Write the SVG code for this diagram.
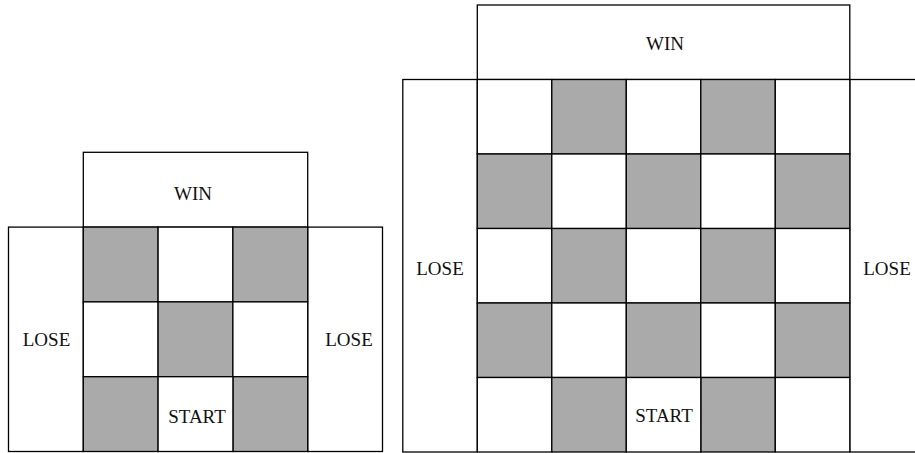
<svg xmlns="http://www.w3.org/2000/svg" width="915" height="453" viewBox="0 0 915 453">
<style>
.w,.g{stroke:#000;stroke-width:1.3}
.w{fill:#fff}
.g{fill:#aaaaaa}
.bg{fill:#fff;stroke:none}
text{font-family:"Liberation Serif","DejaVu Serif","Times New Roman",serif;font-size:19px;fill:#111;text-anchor:middle}
</style>
<rect class="bg" x="0" y="0" width="915" height="453"/>
<g id="left-board">
  <g id="L-win"><rect class="w" x="83.3" y="152.3" width="224.4" height="74.8"/><text x="193" y="200">WIN</text></g>
  <g id="L-lose-left"><rect class="w" x="8.5" y="227.1" width="74.8" height="224.4"/><text x="46.5" y="346">LOSE</text></g>
  <g id="L-lose-right"><rect class="w" x="307.7" y="227.1" width="74.8" height="224.4"/><text x="349" y="346">LOSE</text></g>
  <g id="L-cells">
    <rect class="g" x="83.3" y="227.1" width="74.8" height="74.8"/>
    <rect class="w" x="158.1" y="227.1" width="74.8" height="74.8"/>
    <rect class="g" x="232.9" y="227.1" width="74.8" height="74.8"/>
    <rect class="w" x="83.3" y="301.9" width="74.8" height="74.8"/>
    <rect class="g" x="158.1" y="301.9" width="74.8" height="74.8"/>
    <rect class="w" x="232.9" y="301.9" width="74.8" height="74.8"/>
    <rect class="g" x="83.3" y="376.7" width="74.8" height="74.8"/>
    <rect class="g" x="232.9" y="376.7" width="74.8" height="74.8"/>
  </g>
  <g id="L-start"><rect class="w" x="158.1" y="376.7" width="74.8" height="74.8"/><text x="197" y="423">START</text></g>
</g>
<g id="right-board">
  <g id="R-win"><rect class="w" x="477.3" y="5" width="372.5" height="74.5"/><text x="665" y="50">WIN</text></g>
  <g id="R-lose-left"><rect class="w" x="402.8" y="79.5" width="74.5" height="372.5"/><text x="440" y="275">LOSE</text></g>
  <g id="R-lose-right"><rect class="w" x="849.8" y="79.5" width="74.5" height="372.5"/><text x="887" y="275">LOSE</text></g>
  <g id="R-cells">
    <rect class="w" x="477.3" y="79.5" width="74.5" height="74.5"/>
    <rect class="g" x="551.8" y="79.5" width="74.5" height="74.5"/>
    <rect class="w" x="626.3" y="79.5" width="74.5" height="74.5"/>
    <rect class="g" x="700.8" y="79.5" width="74.5" height="74.5"/>
    <rect class="w" x="775.3" y="79.5" width="74.5" height="74.5"/>

    <rect class="g" x="477.3" y="154" width="74.5" height="74.5"/>
    <rect class="w" x="551.8" y="154" width="74.5" height="74.5"/>
    <rect class="g" x="626.3" y="154" width="74.5" height="74.5"/>
    <rect class="w" x="700.8" y="154" width="74.5" height="74.5"/>
    <rect class="g" x="775.3" y="154" width="74.5" height="74.5"/>

    <rect class="w" x="477.3" y="228.5" width="74.5" height="74.5"/>
    <rect class="g" x="551.8" y="228.5" width="74.5" height="74.5"/>
    <rect class="w" x="626.3" y="228.5" width="74.5" height="74.5"/>
    <rect class="g" x="700.8" y="228.5" width="74.5" height="74.5"/>
    <rect class="w" x="775.3" y="228.5" width="74.5" height="74.5"/>

    <rect class="g" x="477.3" y="303" width="74.5" height="74.5"/>
    <rect class="w" x="551.8" y="303" width="74.5" height="74.5"/>
    <rect class="g" x="626.3" y="303" width="74.5" height="74.5"/>
    <rect class="w" x="700.8" y="303" width="74.5" height="74.5"/>
    <rect class="g" x="775.3" y="303" width="74.5" height="74.5"/>

    <rect class="w" x="477.3" y="377.5" width="74.5" height="74.5"/>
    <rect class="g" x="551.8" y="377.5" width="74.5" height="74.5"/>
    <rect class="g" x="700.8" y="377.5" width="74.5" height="74.5"/>
    <rect class="w" x="775.3" y="377.5" width="74.5" height="74.5"/>
  </g>
  <g id="R-start"><rect class="w" x="626.3" y="377.5" width="74.5" height="74.5"/><text x="664" y="422">START</text></g>
</g>
<g id="connectors"></g>
</svg>
